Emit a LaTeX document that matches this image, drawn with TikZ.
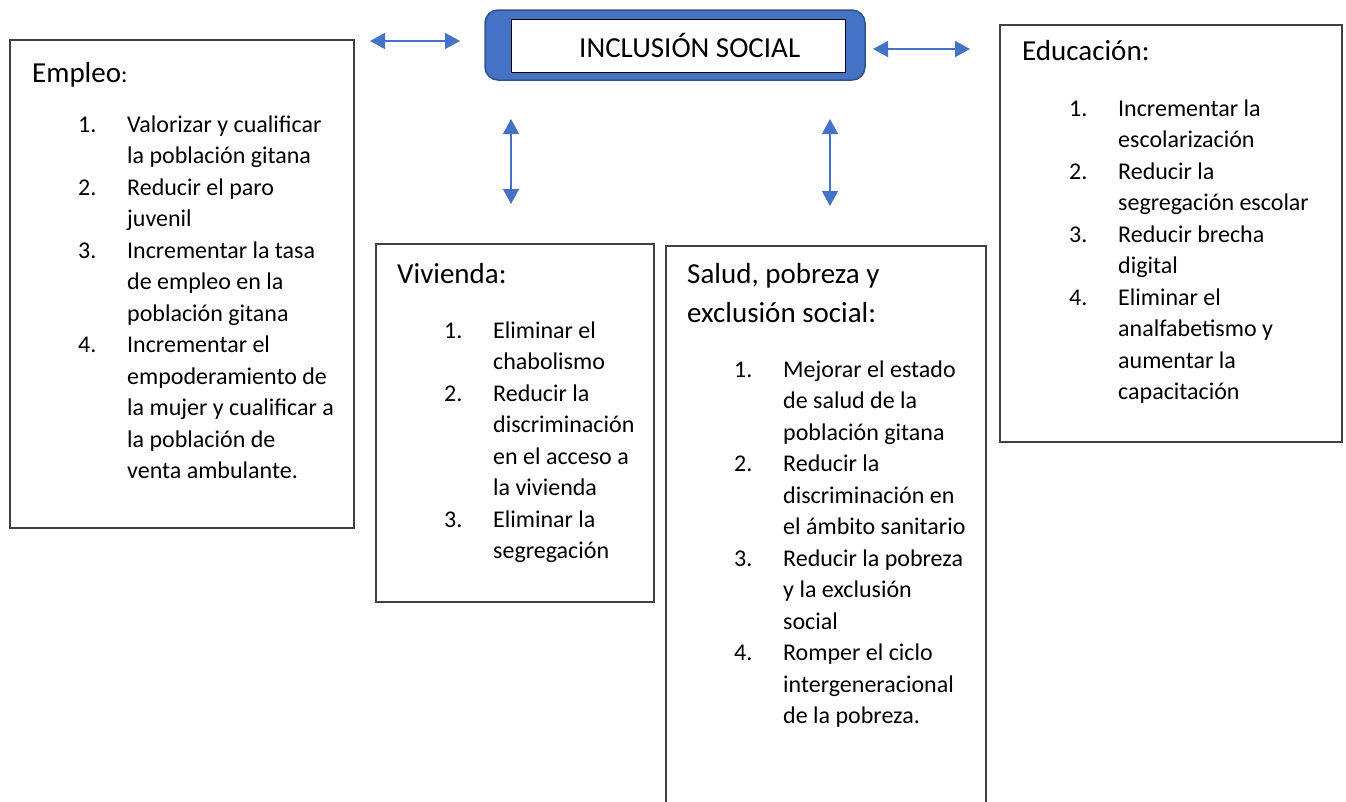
\documentclass[tikz,border=0pt]{standalone}
\usepackage{fontspec}
\setmainfont{Carlito}
\usetikzlibrary{arrows.meta}
\definecolor{officeblue}{RGB}{68,114,196}
\definecolor{officeline}{RGB}{47,82,143}
\definecolor{boxline}{RGB}{64,64,64}

\newcommand{\titlefont}{\fontsize{29}{39}\selectfont}
\newcommand{\listfont}{\fontsize{24}{31.5}\selectfont}
\newcommand{\goals}[1]{\begin{tabular}[t]{@{}p{49pt}@{}l@{}}#1\end{tabular}}

\tikzset{
  areabox/.style={draw=boxline, line width=1.3pt, anchor=north west, inner sep=0pt, outer sep=0pt},
  areatitle/.style={anchor=base west, inner sep=0pt, font=\titlefont},
  arealist/.style={anchor=base west, inner sep=0pt, font=\listfont},
  linkarrow/.style={officeblue, line width=1.4pt, {Triangle[width=16pt,length=15pt]}-{Triangle[width=16pt,length=15pt]}},
}

\begin{document}
\begin{tikzpicture}[x=1pt, y=-1pt]
    \useasboundingbox (0,0) rectangle (1346,801);
    \clip (0,0) rectangle (1346,801);

    % centre
    \node[draw=officeline, line width=1.5pt, fill=officeblue, rounded corners=13pt, minimum width=380pt, minimum height=70pt, inner sep=0pt] (inclusion) at (675,45) {};
    \node[draw=black, line width=1pt, fill=white, minimum width=334pt, minimum height=53pt, inner sep=0pt] (inclusionin) at (678,45.5) {};
    \node[anchor=base west, inner sep=0pt, font=\titlefont] (inclusiontxt) at (579,57) {INCLUSIÓN SOCIAL};

    \coordinate (la) at (370,41);  \coordinate (lb) at (460,41);
    \coordinate (ra) at (873,49);  \coordinate (rb) at (970,49);
    \coordinate (va) at (511,119); \coordinate (vb) at (511,204);
    \coordinate (sa) at (830,119); \coordinate (sb) at (830,206);
    \draw[linkarrow] (la) -- (lb);
    \draw[linkarrow] (ra) -- (rb);
    \draw[linkarrow] (va) -- (vb);
    \draw[linkarrow] (sa) -- (sb);

    % Empleo
    \node[areabox, minimum width=344pt, minimum height=488pt] (empleo) at (10,40) {};
    \node[areatitle] (empleotit) at (32,82) {Empleo{\fontsize{24}{31.5}\selectfont :}};
    \node[arealist] (empleolist) at (78,132) {\goals{
        1. & Valorizar y cualificar\\
           & la población gitana\\
        2. & Reducir el paro\\
           & juvenil\\
        3. & Incrementar la tasa\\
           & de empleo en la\\
           & población gitana\\
        4. & Incrementar el\\
           & empoderamiento de\\
           & la mujer y cualificar a\\
           & la población de\\
           & venta ambulante.}};

    % Vivienda
    \node[areabox, minimum width=278pt, minimum height=358pt] (vivienda) at (376,244) {};
    \node[areatitle] (viviendatit) at (397,283) {Vivienda:};
    \node[arealist] (viviendalist) at (444,338) {\goals{
        1. & Eliminar el\\
           & chabolismo\\
        2. & Reducir la\\
           & discriminación\\
           & en el acceso a\\
           & la vivienda\\
        3. & Eliminar la\\
           & segregación}};

    % Salud, pobreza y exclusion social
    \node[areabox, minimum width=320pt, minimum height=600pt] (salud) at (666,246) {};
    \node[areatitle] (saludtit) at (687,283) {\begin{tabular}[t]{@{}l@{}}Salud, pobreza y\\exclusión social:\end{tabular}};
    \node[arealist] (saludlist) at (734,377) {\goals{
        1. & Mejorar el estado\\
           & de salud de la\\
           & población gitana\\
        2. & Reducir la\\
           & discriminación en\\
           & el ámbito sanitario\\
        3. & Reducir la pobreza\\
           & y la exclusión\\
           & social\\
        4. & Romper el ciclo\\
           & intergeneracional\\
           & de la pobreza.}};

    % Educacion
    \node[areabox, minimum width=342pt, minimum height=417pt] (educacion) at (1000,25) {};
    \node[areatitle] (educaciontit) at (1022,60) {Educación:};
    \node[arealist] (educacionlist) at (1069,116) {\goals{
        1. & Incrementar la\\
           & escolarización\\
        2. & Reducir la\\
           & segregación escolar\\
        3. & Reducir brecha\\
           & digital\\
        4. & Eliminar el\\
           & analfabetismo y\\
           & aumentar la\\
           & capacitación}};

\end{tikzpicture}
\end{document}
